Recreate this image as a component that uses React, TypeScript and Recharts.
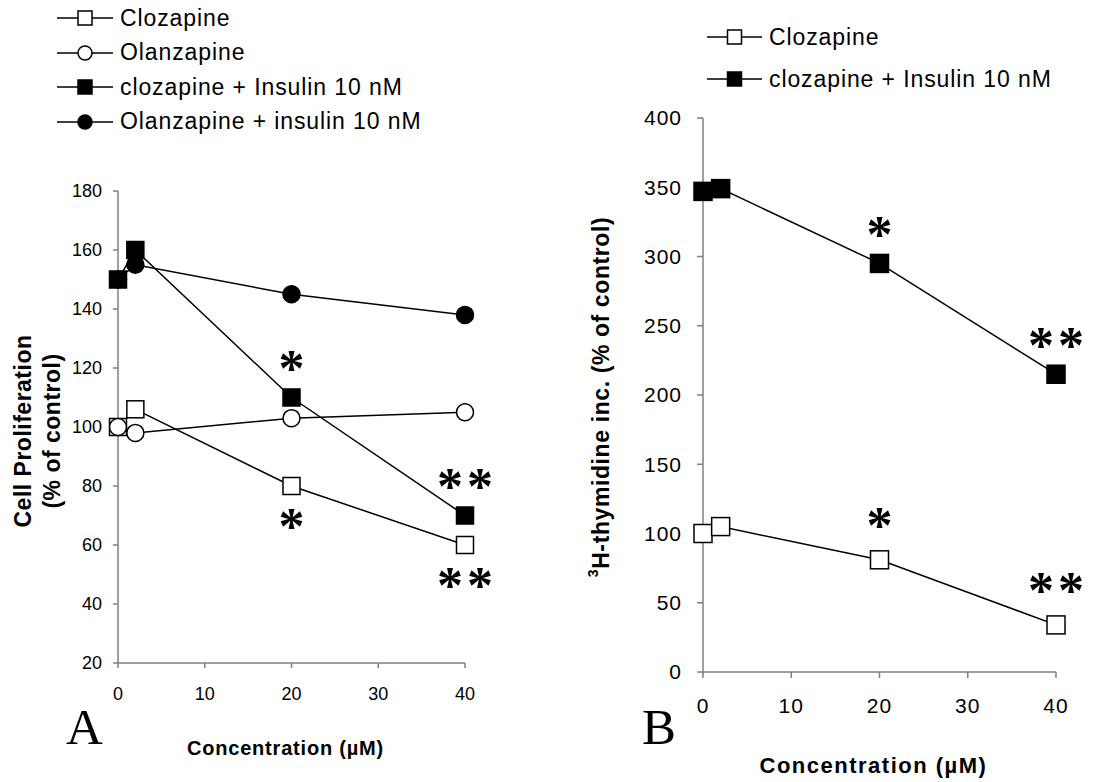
import React from "react";
import { Label, LabelList, Line, LineChart, XAxis, YAxis } from "recharts";

// concentrations (µM)
const concentration = [0, 2, 20, 40];

// panel A: cell proliferation, % of control
const clozapineA = [100, 106, 80, 60];
const olanzapineA = [100, 98, 103, 105];
const clozapineInsulinA = [150, 160, 110, 70];
const olanzapineInsulinA = [150, 155, 145, 138];
const clozapineStarsA = ["", "", "*", "**"];
const clozapineInsulinStarsA = ["", "", "*", "**"];

// panel B: 3H-thymidine incorporation, % of control
const clozapineB = [100, 105, 81, 34];
const clozapineInsulinB = [347, 349, 295, 215];
const clozapineStarsB = ["", "", "*", "**"];
const clozapineInsulinStarsB = ["", "", "*", "**"];

const xTicks = [0, 10, 20, 30, 40];
const yTicksA = [20, 40, 60, 80, 100, 120, 140, 160, 180];
const yTicksB = [0, 50, 100, 150, 200, 250, 300, 350, 400];

const legendA = [
  { label: "Clozapine", shape: "square", filled: false },
  { label: "Olanzapine", shape: "circle", filled: false },
  { label: "clozapine + Insulin 10 nM", shape: "square", filled: true },
  { label: "Olanzapine + insulin 10 nM", shape: "circle", filled: true }
];
const legendB = [
  { label: "Clozapine", shape: "square", filled: false },
  { label: "clozapine + Insulin 10 nM", shape: "square", filled: true }
];

const rowsA = concentration.map((x, i) => ({
  x,
  cloz: clozapineA[i],
  olan: olanzapineA[i],
  clozIns: clozapineInsulinA[i],
  olanIns: olanzapineInsulinA[i],
  clozStar: clozapineStarsA[i],
  clozInsStar: clozapineInsulinStarsA[i]
}));

const rowsB = concentration.map((x, i) => ({
  x,
  cloz: clozapineB[i],
  clozIns: clozapineInsulinB[i],
  clozStar: clozapineStarsB[i],
  clozInsStar: clozapineInsulinStarsB[i]
}));

const AXIS = "#7f7f7f";
const SANS = "'Liberation Sans', Arial, sans-serif";
const SERIF = "'Liberation Serif', 'Times New Roman', serif";

function markerDot(shape: string, filled: boolean, size = 17) {
  return (props: any) => {
    const { cx, cy, index } = props;
    const key = `m-${index}`;
    if (cx == null || cy == null) return <g key={key} />;
    const fill = filled ? "#000" : "#fff";
    if (shape === "square") {
      return (
        <rect key={key} x={cx - size / 2} y={cy - size / 2} width={size} height={size}
          fill={fill} stroke="#000" strokeWidth={1.5} />
      );
    }
    return <circle key={key} cx={cx} cy={cy} r={size / 2} fill={fill} stroke="#000" strokeWidth={1.5} />;
  };
}

// asterisks centred above/below the point; offset = shift of the star centre
function stars(offset: number) {
  return (props: any) => {
    const { x, y, value, index } = props;
    if (!value) return null;
    return (
      <text key={`s-${index}`} x={x + 2} y={y + offset + 27} textAnchor="middle"
        fontFamily={SERIF} fontWeight="bold" fontSize={52} letterSpacing={4} fill="#000">
        {value}
      </text>
    );
  };
}

function xTitle(fontSize: number, spacing: number, dx: number, dy: number) {
  return (props: any) => {
    const vb = props.viewBox || {};
    return (
      <text x={vb.x + vb.width / 2 + dx} y={vb.y + dy} textAnchor="middle" fontFamily={SANS}
        fontWeight="bold" fontSize={fontSize} letterSpacing={spacing} fill="#000">
        Concentration (µM)
      </text>
    );
  };
}

function yTitleA(props: any) {
  const vb = props.viewBox || {};
  const cy = vb.y + vb.height / 2 + 4;
  const lines = ["Cell Proliferation", "(% of control)"];
  const xs = [23, 52];
  return (
    <g>
      {lines.map((t, i) => (
        <text key={t} x={xs[i]} y={cy} transform={`rotate(-90, ${xs[i]}, ${cy})`} textAnchor="middle"
          dominantBaseline="central" fontFamily={SANS} fontWeight="bold" fontSize={23}
          letterSpacing={0.5} fill="#000">
          {t}
        </text>
      ))}
    </g>
  );
}

function yTitleB(props: any) {
  const vb = props.viewBox || {};
  const cy = vb.y + vb.height / 2 + 2;
  const cx = 41;
  return (
    <text x={cx} y={cy} transform={`rotate(-90, ${cx}, ${cy})`} textAnchor="middle"
      dominantBaseline="central" fontFamily={SANS} fontWeight="bold" fontSize={23}
      letterSpacing={0.6} fill="#000">
      <tspan fontSize={14} dy={-8}>3</tspan>
      <tspan dy={8}>H-thymidine inc.  (% of control)</tspan>
    </text>
  );
}

function LegendIcon({ shape, filled, width }: any) {
  const s = 14;
  const c = width / 2;
  return (
    <svg width={width} height={20} style={{ display: "block" }}>
      <line x1={0} x2={width} y1={10} y2={10} stroke="#000" strokeWidth={1.5} />
      {shape === "square" ? (
        <rect x={c - s / 2} y={10 - s / 2} width={s} height={s} fill={filled ? "#000" : "#fff"}
          stroke="#000" strokeWidth={1.5} />
      ) : (
        <circle cx={c} cy={10} r={s / 2} fill={filled ? "#000" : "#fff"} stroke="#000" strokeWidth={1.5} />
      )}
    </svg>
  );
}

function Legend({ items, left, top, step, lineWidth }: any) {
  return (
    <div style={{ position: "absolute", left, top }}>
      {items.map((it: any, i: number) => (
        <div key={it.label} style={{ position: "absolute", top: i * step - 15, left: 0, height: 30,
          display: "flex", alignItems: "center", whiteSpace: "nowrap" }}>
          <LegendIcon shape={it.shape} filled={it.filled} width={lineWidth} />
          <span style={{ marginLeft: 7, fontFamily: SANS, fontSize: 23, letterSpacing: 0.9, color: "#000" }}>
            {it.label}
          </span>
        </div>
      ))}
    </div>
  );
}

const axisLine = { stroke: AXIS, strokeWidth: 1.5 };

function PanelA() {
  return (
    <LineChart width={560} height={782} data={rowsA} margin={{ top: 191, right: 95, bottom: 80, left: 0 }}>
      <XAxis type="number" dataKey="x" domain={[0, 40]} ticks={xTicks} interval={0} height={39}
        axisLine={axisLine} tickLine={axisLine} tickSize={5} tickMargin={19}
        tick={{ fill: "#000", fontSize: 18 }}>
        <Label content={xTitle(20, 0.8, -6, 92)} />
      </XAxis>
      <YAxis type="number" domain={[20, 180]} ticks={yTicksA} interval={0} width={118}
        axisLine={axisLine} tickLine={axisLine} tickSize={5} tickMargin={11}
        tick={{ fill: "#000", fontSize: 18 }}>
        <Label content={yTitleA} />
      </YAxis>
      <Line dataKey="cloz" stroke="#000" strokeWidth={1.5} isAnimationActive={false}
        dot={markerDot("square", false)} activeDot={false}>
        <LabelList dataKey="clozStar" content={stars(31)} />
      </Line>
      <Line dataKey="olan" stroke="#000" strokeWidth={1.5} isAnimationActive={false}
        dot={markerDot("circle", false)} activeDot={false} />
      <Line dataKey="olanIns" stroke="#000" strokeWidth={1.5} isAnimationActive={false}
        dot={markerDot("circle", true)} activeDot={false} />
      <Line dataKey="clozIns" stroke="#000" strokeWidth={1.5} isAnimationActive={false}
        dot={markerDot("square", true)} activeDot={false}>
        <LabelList dataKey="clozInsStar" content={stars(-39)} />
      </Line>
    </LineChart>
  );
}

function PanelB() {
  return (
    <LineChart width={542} height={782} data={rowsB} margin={{ top: 118, right: 46, bottom: 70, left: 0 }}>
      <XAxis type="number" dataKey="x" domain={[0, 40]} ticks={xTicks} interval={0} height={40}
        axisLine={axisLine} tickLine={axisLine} tickSize={6} tickMargin={20}
        tick={{ fill: "#000", fontSize: 21, letterSpacing: 1 }}>
        <Label content={xTitle(22, 1.5, -6, 101)} />
      </XAxis>
      <YAxis type="number" domain={[0, 400]} ticks={yTicksB} interval={0} width={143}
        axisLine={axisLine} tickLine={axisLine} tickSize={6} tickMargin={15}
        tick={{ fill: "#000", fontSize: 21, letterSpacing: 1 }}>
        <Label content={yTitleB} />
      </YAxis>
      <Line dataKey="cloz" stroke="#000" strokeWidth={1.5} isAnimationActive={false}
        dot={markerDot("square", false, 18)} activeDot={false}>
        <LabelList dataKey="clozStar" content={stars(-44)} />
      </Line>
      <Line dataKey="clozIns" stroke="#000" strokeWidth={1.5} isAnimationActive={false}
        dot={markerDot("square", true, 18)} activeDot={false}>
        <LabelList dataKey="clozInsStar" content={stars(-38)} />
      </Line>
    </LineChart>
  );
}

export default function App() {
  return (
    <div style={{ position: "absolute", left: 0, top: 0, width: 1102, height: 782, background: "#fff",
      fontFamily: SANS, overflow: "hidden" }}>
      <div style={{ position: "absolute", left: 0, top: 0 }}>
        <PanelA />
      </div>
      <div style={{ position: "absolute", left: 560, top: 0 }}>
        <PanelB />
      </div>
      <Legend items={legendA} left={57} top={18} step={34.5} lineWidth={56} />
      <Legend items={legendB} left={707} top={37} step={42} lineWidth={55} />
      <div style={{ position: "absolute", left: 66, top: 702, fontFamily: SERIF, fontSize: 51, lineHeight: "51px" }}>A</div>
      <div style={{ position: "absolute", left: 642, top: 702, fontFamily: SERIF, fontSize: 51, lineHeight: "51px" }}>B</div>
    </div>
  );
}
